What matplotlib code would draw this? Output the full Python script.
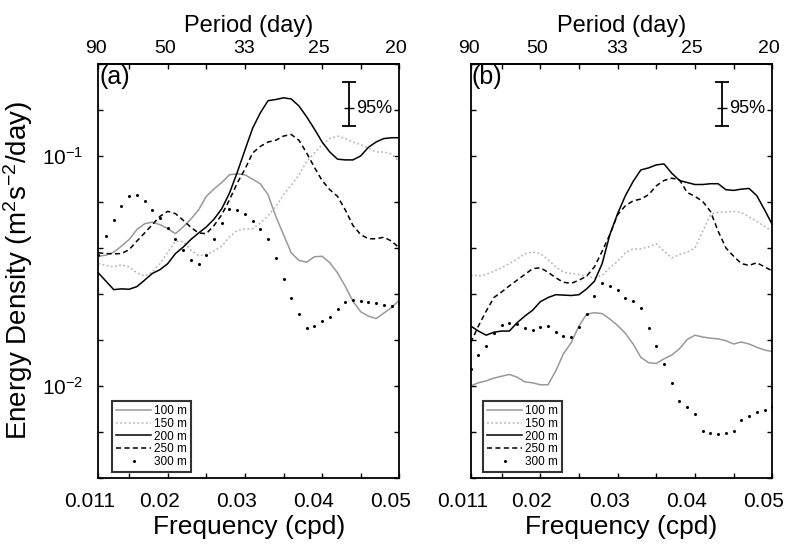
import numpy as np
import matplotlib.pyplot as plt
import matplotlib.transforms as mtransforms
from matplotlib.ticker import NullLocator

plt.rcParams['font.family'] = ['Liberation Sans', 'DejaVu Sans']
plt.rcParams['mathtext.fontset'] = 'custom'
plt.rcParams['mathtext.rm'] = 'Liberation Sans'
plt.rcParams['mathtext.it'] = 'Liberation Sans:italic'
plt.rcParams['mathtext.bf'] = 'Liberation Sans:bold'

# Частоти (cpd)
freq = [0.011, 0.012, 0.013, 0.014, 0.015, 0.016, 0.017, 0.018, 0.019, 0.020,
        0.021, 0.022, 0.023, 0.024, 0.025, 0.026, 0.027, 0.028, 0.029, 0.030,
        0.031, 0.032, 0.033, 0.034, 0.035, 0.036, 0.037, 0.038, 0.039, 0.040,
        0.041, 0.042, 0.043, 0.044, 0.045, 0.046, 0.047, 0.048, 0.049, 0.050]

depth_labels = ['100 m', '150 m', '200 m', '250 m', '300 m']

# Панель (a)
a_100 = [0.0366, 0.0370, 0.0381, 0.0405, 0.0433, 0.0478, 0.0507, 0.0515, 0.0502, 0.0483,
         0.0459, 0.0491, 0.0531, 0.0583, 0.0667, 0.0719, 0.0766, 0.0828, 0.0836, 0.0828,
         0.0792, 0.0756, 0.0678, 0.0546, 0.0455, 0.0379, 0.0351, 0.0345, 0.0364, 0.0366,
         0.0343, 0.0310, 0.0271, 0.0233, 0.0210, 0.0201, 0.0196, 0.0207, 0.0219, 0.0236]
a_150 = [0.0340, 0.0334, 0.0329, 0.0336, 0.0329, 0.0310, 0.0300, 0.0313, 0.0340, 0.0381,
         0.0426, 0.0424, 0.0389, 0.0368, 0.0372, 0.0386, 0.0405, 0.0444, 0.0474, 0.0481,
         0.0483, 0.0511, 0.0549, 0.0603, 0.0678, 0.0746, 0.0828, 0.0945, 0.103, 0.112,
         0.119, 0.122, 0.119, 0.115, 0.112, 0.108, 0.104, 0.104, 0.102, 0.0945]
a_200 = [0.0310, 0.0285, 0.0262, 0.0264, 0.0263, 0.0270, 0.0288, 0.0308, 0.0320, 0.0340,
         0.0376, 0.0401, 0.0433, 0.0462, 0.0491, 0.0531, 0.0589, 0.0689, 0.0847, 0.106,
         0.132, 0.154, 0.174, 0.176, 0.179, 0.177, 0.165, 0.148, 0.131, 0.115,
         0.104, 0.0968, 0.0961, 0.0961, 0.100, 0.109, 0.115, 0.119, 0.120, 0.120]
a_250 = [0.0379, 0.0376, 0.0375, 0.0376, 0.0391, 0.0426, 0.0462, 0.0502, 0.0546, 0.0574,
         0.0561, 0.0525, 0.0489, 0.0462, 0.0459, 0.0498, 0.0555, 0.0644, 0.0762, 0.0875,
         0.103, 0.110, 0.115, 0.117, 0.122, 0.124, 0.117, 0.103, 0.0893, 0.0782,
         0.0713, 0.0667, 0.0583, 0.0498, 0.0455, 0.0436, 0.0436, 0.0443, 0.0426, 0.0398]
a_300 = [0.0372, 0.0447, 0.0528, 0.0603, 0.0671, 0.0679, 0.0634, 0.0583, 0.0537, 0.0485,
         0.0437, 0.0391, 0.0354, 0.0340, 0.0372, 0.0433, 0.0511, 0.0587, 0.0579, 0.0561,
         0.0519, 0.0481, 0.0433, 0.0360, 0.0290, 0.0242, 0.0205, 0.0179, 0.0182, 0.0191,
         0.0199, 0.0215, 0.0231, 0.0236, 0.0233, 0.0231, 0.0228, 0.0224, 0.0222, 0.0230]

# Панель (b)
b_100 = [0.0100, 0.0103, 0.0105, 0.0108, 0.0110, 0.0112, 0.0109, 0.0104, 0.0103, 0.0101,
         0.0101, 0.0116, 0.0138, 0.0154, 0.0182, 0.0205, 0.0208, 0.0206, 0.0195, 0.0183,
         0.0169, 0.0152, 0.0133, 0.0126, 0.0125, 0.0131, 0.0136, 0.0145, 0.0159, 0.0166,
         0.0163, 0.0161, 0.0160, 0.0157, 0.0152, 0.0155, 0.0152, 0.0147, 0.0143, 0.0141]
b_150 = [0.0305, 0.0300, 0.0305, 0.0315, 0.0326, 0.0340, 0.0356, 0.0375, 0.0382, 0.0376,
         0.0354, 0.0329, 0.0312, 0.0308, 0.0305, 0.0300, 0.0295, 0.0302, 0.0326, 0.0348,
         0.0379, 0.0394, 0.0394, 0.0402, 0.0415, 0.0385, 0.0360, 0.0372, 0.0381, 0.0398,
         0.0470, 0.0555, 0.0568, 0.0570, 0.0574, 0.0568, 0.0542, 0.0519, 0.0494, 0.0470]
b_200 = [0.0182, 0.0173, 0.0166, 0.0171, 0.0173, 0.0173, 0.0188, 0.0201, 0.0213, 0.0232,
         0.0242, 0.0249, 0.0248, 0.0247, 0.0249, 0.0264, 0.0285, 0.0340, 0.0455, 0.0561,
         0.0671, 0.0774, 0.0869, 0.0887, 0.0914, 0.0923, 0.0841, 0.0782, 0.0766, 0.0751,
         0.0751, 0.0757, 0.0757, 0.0713, 0.0708, 0.0717, 0.0722, 0.0671, 0.0583, 0.0502]
b_250 = [0.0154, 0.0182, 0.0211, 0.0242, 0.0256, 0.0272, 0.0288, 0.0305, 0.0323, 0.0326,
         0.0312, 0.0295, 0.0282, 0.0279, 0.0288, 0.0300, 0.0329, 0.0385, 0.0455, 0.0555,
         0.0607, 0.0638, 0.0649, 0.0678, 0.0741, 0.0782, 0.0800, 0.0787, 0.0693, 0.0667,
         0.0634, 0.0574, 0.0470, 0.0398, 0.0366, 0.0340, 0.0334, 0.0343, 0.0329, 0.0316]
b_300 = [0.0118, 0.0136, 0.0149, 0.0170, 0.0184, 0.0188, 0.0185, 0.0179, 0.0175, 0.0180,
         0.0182, 0.0171, 0.0164, 0.0163, 0.0180, 0.0205, 0.0247, 0.0281, 0.0273, 0.0262,
         0.0241, 0.0233, 0.0219, 0.0179, 0.0149, 0.0124, 0.0103, 0.00861, 0.00805, 0.00754,
         0.00638, 0.00625, 0.00617, 0.00625, 0.00638, 0.00710, 0.00741, 0.00766, 0.00787, 0.00805]

# 95% довірчий інтервал
ci_freq = 0.0435
ci_mid = 0.161
ci_low = 0.135
ci_high = 0.210

freq_ticks = [0.011, 0.02, 0.03, 0.04, 0.05]
freq_labels = ['0.011', '0.02', '0.03', '0.04', '0.05']
freq_minor = [0.015, 0.025, 0.035, 0.045]
period_ticks = [90, 50, 33, 25, 20]

styles = [
    dict(color='#999999', lw=1.1, ls='-'),
    dict(color='#b5b5b5', lw=1.1, ls=(0, (1.2, 1.6))),
    dict(color='black', lw=1.1, ls='-'),
    dict(color='black', lw=1.1, ls=(0, (3.3, 2.2))),
    dict(color='black', ls='none', marker='o', ms=1.2),
]


def inv(x):
    x = np.asarray(x, dtype=float)
    with np.errstate(divide='ignore'):
        return 1.0 / x


fig = plt.figure(figsize=(7.9, 5.47), dpi=100)


def draw_panel(ax, series, tag, legend_x, show_ylabels):
    for label, vals, st in zip(depth_labels, series, styles):
        ax.plot(freq, vals, label=label, **st)

    ax.set_yscale('log')
    ax.set_xlim(0.011, 0.05)
    ax.set_ylim(10 ** -2.4, 10 ** -0.6)

    exps = np.round(np.arange(-2.4, -0.59, 0.2), 1)
    ylabels = []
    for e in exps:
        if show_ylabels and abs(e - round(e)) < 1e-6:
            ylabels.append('$10^{%d}$' % int(round(e)))
        else:
            ylabels.append('')
    ax.set_yticks(10.0 ** exps, ylabels)
    ax.yaxis.set_minor_locator(NullLocator())

    ax.set_xticks(freq_ticks, freq_labels)
    ax.set_xticks(freq_minor, minor=True)

    ax.tick_params(which='both', direction='in', top=True, right=True,
                   length=3.6, width=1.0, labelsize=15)
    ax.tick_params(axis='x', pad=10)
    ax.tick_params(axis='y', pad=11)
    for sp in ax.spines.values():
        sp.set_linewidth(1.3)

    off = mtransforms.ScaledTranslation(-8.5 / 100, 0, fig.dpi_scale_trans)
    for lab in ax.get_xticklabels():
        lab.set_transform(lab.get_transform() + off)

    ax.set_xlabel('Frequency (cpd)', fontsize=19, labelpad=3)

    sec = ax.secondary_xaxis('top', functions=(inv, inv))
    sec.set_xticks(period_ticks, [str(p) for p in period_ticks])
    sec.xaxis.set_minor_locator(NullLocator())
    sec.tick_params(length=0, labelsize=14, pad=5)
    sec.spines['top'].set_linewidth(1.3)
    sec.set_xlabel('Period (day)', fontsize=17, labelpad=6)
    off2 = mtransforms.ScaledTranslation(-3 / 100, 0, fig.dpi_scale_trans)
    for lab in sec.get_xticklabels():
        lab.set_transform(lab.get_transform() + off2)

    # 95% інтервал
    ax.errorbar([ci_freq], [ci_mid],
                yerr=[[ci_mid - ci_low], [ci_high - ci_mid]],
                fmt='none', ecolor='black', elinewidth=1.3, capsize=5, capthick=1.3)
    ax.plot([ci_freq], [ci_mid], marker='_', ms=7, mew=1.0, color='black')
    ax.annotate('95%', xy=(ci_freq, ci_mid), xytext=(5, 0), textcoords='offset points',
                ha='left', va='center', fontsize=13)

    ax.text(0.003, 0.997, tag, transform=ax.transAxes, ha='left', va='top', fontsize=18)

    leg = ax.legend(loc='lower left', bbox_to_anchor=(legend_x, 0.014), fontsize=8.5,
                    handlelength=3.0, handletextpad=0.2, labelspacing=0.05,
                    borderpad=0.35, borderaxespad=0, fancybox=False, numpoints=1)
    leg.get_frame().set_edgecolor('black')
    leg.get_frame().set_linewidth(1.5)


ax_a = fig.add_axes([0.1244, 0.1267, 0.381, 0.7563])
ax_b = fig.add_axes([0.5958, 0.1267, 0.3818, 0.7563])

draw_panel(ax_a, [a_100, a_150, a_200, a_250, a_300], '(a)', 0.045, True)
draw_panel(ax_b, [b_100, b_150, b_200, b_250, b_300], '(b)', 0.040, False)

ax_a.set_ylabel('Energy Density (m$^2$s$^{-2}$/day)', fontsize=20, labelpad=5)

fig.savefig('out.png', dpi=100)
